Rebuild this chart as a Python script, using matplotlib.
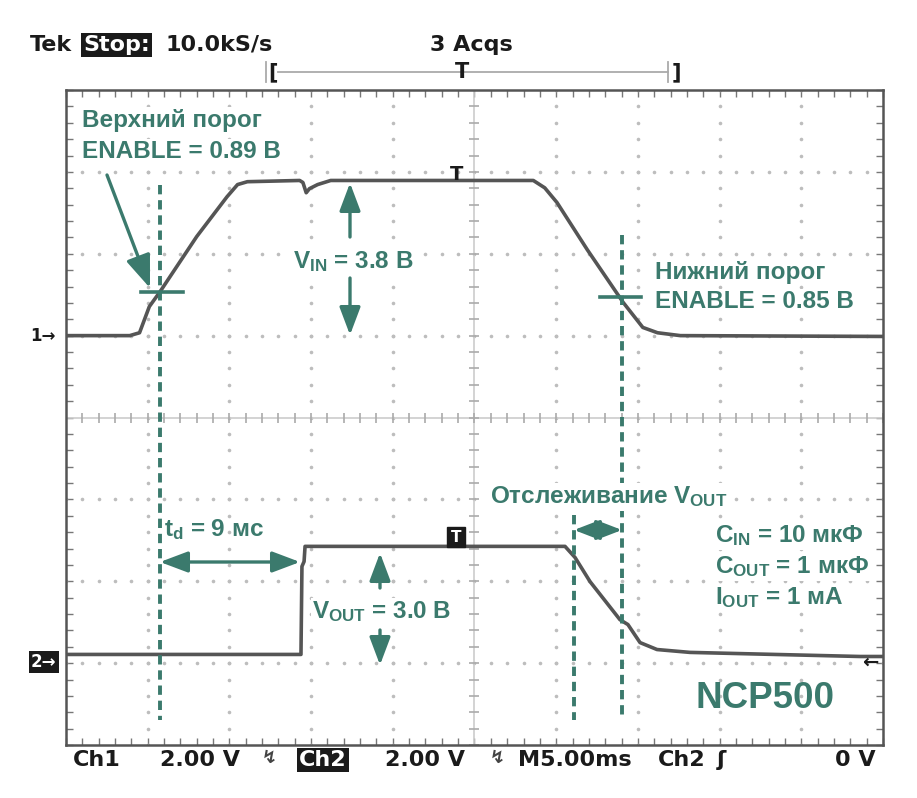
import numpy as np
import matplotlib.pyplot as plt
from matplotlib.patches import Rectangle

# Ch1 = V_IN, Ch2 = V_OUT; time in ms, voltage in V
ch1_t = [0, 3.9, 4.5, 5.1, 5.75, 8.0, 9.85, 10.5, 11.1, 14.3, 14.5, 14.7, 14.9,
         15.4, 16.2, 28.6, 29.3, 30.05, 31.9, 34.1, 35.3, 36.2, 37.6, 50]
ch1_v = [0, 0, 0.07, 0.71, 1.07, 2.42, 3.39, 3.69, 3.76, 3.79, 3.74, 3.49, 3.59,
         3.69, 3.79, 3.79, 3.61, 3.25, 2.10, 0.81, 0.20, 0.07, 0, -0.02]

ch2_t = [0, 14.38, 14.44, 14.57, 14.63, 30.54, 31.15, 32.07, 33.9, 34.39,
         35.13, 36.17, 38.19, 48.6, 50]
ch2_v = [0, 0, 2.15, 2.27, 2.64, 2.64, 2.37, 1.78, 0.85, 0.73,
         0.29, 0.12, 0.05, -0.05, -0.05]

volts_per_div = 2.0
ms_per_div = 5.0
ch1_ground = 1.0      # divisions from centre
ch2_ground = -2.894

header = ['Tek', 'Stop:', '10.0kS/s', '3 Acqs']
footer = ['Ch1', '2.00 V', 'Ch2', '2.00 V', 'M5.00ms', 'Ch2', '0 V']

teal = '#3b7a6d'
plt.rcParams['font.family'] = ['Liberation Sans', 'DejaVu Sans']
plt.rcParams['mathtext.fontset'] = 'custom'
plt.rcParams['mathtext.rm'] = 'Liberation Sans:bold'
plt.rcParams['mathtext.it'] = 'Liberation Sans:bold'
plt.rcParams['mathtext.bf'] = 'Liberation Sans:bold'

W, H = 917, 798
fig = plt.figure(figsize=(W / 100, H / 100), dpi=100)
fig.patch.set_facecolor('white')

# scope screen: 10 x 8 divisions
ax = fig.add_axes([66 / W, 1 - 745 / H, 817 / W, 655 / H])
ax.set_xlim(0, 10 * ms_per_div)
ax.set_ylim(-4, 4)
ax.set_xticks(np.arange(0, 50.01, 1))
ax.set_yticks(np.arange(-4, 4.01, 0.2))
ax.tick_params(direction='in', length=5, width=1, color='#777777',
               top=True, right=True, labelbottom=False, labelleft=False)
for s in ax.spines.values():
    s.set_color('#555555')
    s.set_linewidth(1.8)

minor_x = np.arange(0, 50.01, 1)
minor_y = np.arange(-4, 4.01, 0.2)
dot = dict(ls='none', marker='o', ms=2.6, color='#bdbdbd', mec='none')
for gx in range(5, 50, 5):
    if gx != 25:
        ax.plot(np.full_like(minor_y, gx), minor_y, **dot)
for gy in range(-3, 4):
    if gy != 0:
        ax.plot(minor_x, np.full_like(minor_x, gy), **dot)
ax.axhline(0, color='#cccccc', lw=1.2)
ax.axvline(25, color='#cccccc', lw=1.2)
ax.plot(minor_x, np.zeros_like(minor_x), ls='none', marker='|', ms=7, mew=1.2, color='#aaaaaa')
ax.plot(np.full_like(minor_y, 25), minor_y, ls='none', marker='_', ms=7, mew=1.2, color='#aaaaaa')

ax.plot(ch1_t, ch1_ground + np.array(ch1_v) / volts_per_div, color='#555555',
        lw=2.6, solid_joinstyle='round', zorder=3)
ax.plot(ch2_t, ch2_ground + np.array(ch2_v) / volts_per_div, color='#555555',
        lw=2.6, solid_joinstyle='round', zorder=3)

# overlay in pixel coordinates for labels and annotations
ov = fig.add_axes([0, 0, 1, 1])
ov.set_xlim(0, W)
ov.set_ylim(H, 0)
ov.axis('off')

scope = dict(family='DejaVu Sans', fontweight='bold', fontsize=16, color='#1a1a1a', va='center')
ov.text(30, 45, header[0], **scope)
ov.text(83, 45, header[1], **{**scope, 'color': 'white'},
        bbox=dict(fc='#1a1a1a', ec='none', pad=1.5))
ov.text(165, 45, header[2], **scope)
ov.text(430, 45, header[3], **scope)

ov.plot([278, 668], [72, 72], color='#aaaaaa', lw=1.3)
ov.plot([266, 266], [62, 82], color='#aaaaaa', lw=1.3)
ov.plot([668, 668], [62, 82], color='#aaaaaa', lw=1.3)
ov.text(268, 72, '[', **{**scope, 'fontsize': 15})
ov.text(672, 72, ']', **{**scope, 'fontsize': 15})
ov.text(462, 72, 'T', ha='center', **{**scope, 'fontsize': 15})

ov.text(73, 760, footer[0], **scope)
ov.text(160, 760, footer[1], **scope)
ov.text(299, 760, footer[2], **{**scope, 'color': 'white'},
        bbox=dict(fc='#1a1a1a', ec='none', pad=1.5))
ov.text(385, 760, footer[3], **scope)
ov.text(518, 760, footer[4], **scope)
ov.text(658, 760, footer[5], **scope)
ov.text(835, 760, footer[6], **scope)
ov.text(262, 758, '↯', **{**scope, 'fontsize': 13, 'color': '#444444'})
ov.text(490, 758, '↯', **{**scope, 'fontsize': 13, 'color': '#444444'})
ov.text(717, 760, 'ʃ', **scope)

ov.text(30, 336, '1→', **{**scope, 'fontsize': 12})
ov.text(31, 662, '2→', **{**scope, 'fontsize': 12, 'color': 'white'},
        bbox=dict(fc='#1a1a1a', ec='none', pad=1.5))
ov.text(862, 662, '←', **{**scope, 'fontsize': 14})

ov.text(457, 174, 'T', ha='center', family='DejaVu Sans', fontweight='bold',
        fontsize=14, color='#1a1a1a', va='center')
ov.add_patch(Rectangle((447, 527), 18, 20, color='#1a1a1a', zorder=4))
ov.text(456, 537, 'T', ha='center', va='center', color='white', fontsize=11,
        fontweight='bold', family='DejaVu Sans', zorder=5)

# annotations
dash = dict(color=teal, lw=2.8, ls=(0, (2.4, 1.5)))
ov.plot([160, 160], [185, 720], **dash)
ov.plot([622, 622], [235, 720], **dash)
ov.plot([574, 574], [515, 720], **dash)
ov.plot([141, 183], [292, 292], color=teal, lw=2.6)
ov.plot([600, 641], [297, 297], color=teal, lw=2.6)


def arrow(tail, tip, style='-|>,head_length=0.85,head_width=0.32'):
    ov.annotate('', xy=tip, xytext=tail,
                arrowprops=dict(arrowstyle=style, color=teal, lw=2.4,
                                shrinkA=0, shrinkB=0, mutation_scale=20))


arrow((107, 175), (150, 288), '-|>,head_length=1.0,head_width=0.38')
arrow((350, 237), (350, 183))
arrow((350, 278), (350, 335))
arrow((380, 588), (380, 553))
arrow((380, 630), (380, 665))
arrow((160, 562), (300, 562), '<|-|>,head_length=0.85,head_width=0.32')
arrow((574, 530), (622, 530), '<|-|>,head_length=0.78,head_width=0.3')

lab = dict(color=teal, fontsize=17.5, fontweight='bold', va='center', ha='left')
box = dict(fc='white', ec='none', pad=1)
ov.text(82, 120, 'Верхний порог', bbox=box, **lab)
ov.text(82, 152, 'ENABLE = 0.89 В', bbox=box, **lab)
ov.text(655, 272, 'Нижний порог', bbox=box, **lab)
ov.text(655, 302, 'ENABLE = 0.85 В', bbox=box, **lab)
ov.text(293, 262, r'V$_{\mathrm{IN}}$ = 3.8 В', bbox=box, **lab)
ov.text(164, 530, r't$_{\mathrm{d}}$ = 9 мс', **lab)
ov.text(312, 612, r'V$_{\mathrm{OUT}}$ = 3.0 В', bbox=box, **lab)
ov.text(490, 497, r'Отслеживание V$_{\mathrm{OUT}}$', bbox=box, **lab)
ov.text(715, 536, r'C$_{\mathrm{IN}}$ = 10 мкФ', bbox=box, **lab)
ov.text(715, 567, r'C$_{\mathrm{OUT}}$ = 1 мкФ', bbox=box, **lab)
ov.text(715, 598, r'I$_{\mathrm{OUT}}$ = 1 мА', bbox=box, **lab)
ov.text(695, 698, 'NCP500', color=teal, fontsize=26.5, fontweight='bold', va='center', ha='left')

fig.savefig('out.png', dpi=100)
